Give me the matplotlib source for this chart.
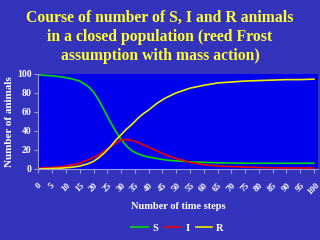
import matplotlib
matplotlib.use("Agg")
import matplotlib.pyplot as plt

t = [0, 5, 8, 12, 15, 18, 20, 22, 24, 26, 28, 30, 32, 34, 36, 38, 40, 43, 46,
     50, 55, 60, 65, 70, 75, 80, 85, 90, 95, 100]
s = [99, 98, 97, 95, 92.5, 87, 81, 72, 61, 50, 40, 31, 24, 19, 16, 14, 12.5, 11, 9.5,
     8.5, 7.5, 7, 6.5, 6.3, 6, 6, 6, 6, 6, 6]
i = [1, 1.5, 2.2, 4, 6, 9.5, 12, 15, 19, 23, 27, 30.5, 31, 30, 28, 25.5, 23, 19, 15,
     11, 7, 4.5, 3, 2.5, 2, 1.5, 1.2, 1, 1, 1]
r = [0, 0.5, 0.8, 1.8, 3, 5.5, 8, 12, 17, 23, 30, 36, 42, 47, 53, 58, 62, 69, 74.5,
     80, 85, 88, 90.5, 91.5, 92.5, 93, 93.5, 94, 94, 94.5]
xticks = list(range(0, 101, 5))
yticks = [0, 20, 40, 60, 80, 100]

bg = "#3333bb"
serif = "Liberation Serif"

fig = plt.figure(figsize=(3.2, 2.4), dpi=100, facecolor=bg)
ax = fig.add_axes([0.12, 0.296, 0.874, 0.396])
ax.set_facecolor("#0000ee")

ax.plot(t, s, color="#00dd00", lw=1.2, label="S")
ax.plot(t, i, color="#ee0000", lw=1.2, label="I")
ax.plot(t, r, color="#eeee00", lw=1.2, label="R")

ax.set_xlim(0, 101.5)
ax.set_ylim(0, 100)
ax.set_xticks(xticks)
ax.set_yticks(yticks)
ax.set_xticklabels([str(v) for v in xticks], rotation=45, ha="center", va="top",
                   fontsize=6.5, fontweight="bold", family=serif, color="white")
ax.set_yticklabels([str(v) for v in yticks], fontsize=7, fontweight="bold",
                   family=serif, color="white")
ax.tick_params(axis="x", colors="#9999dd", length=3, pad=6)
ax.tick_params(axis="y", colors="#9999dd", length=3, pad=2)
for lab in ax.get_xticklabels() + ax.get_yticklabels():
    lab.set_color("white")
for side in ["top", "right"]:
    ax.spines[side].set_visible(False)
for side in ["left", "bottom"]:
    ax.spines[side].set_color("#9999dd")

ax.set_ylabel("Number of animals", fontsize=8, fontweight="bold", family=serif,
              color="white", labelpad=2)
ax.set_xlabel("Number of time steps", fontsize=7.5, fontweight="bold", family=serif,
              color="white", labelpad=4)

fig.text(0.5, 0.96, "Course of number of S, I and R animals\nin a closed population (reed Frost\nassumption with mass action)",
         ha="center", va="top", fontsize=11.3, fontweight="bold", family=serif,
         color="#ffff33", linespacing=1.28)

leg = fig.legend(loc="center", bbox_to_anchor=(0.555, 0.05), ncol=3, frameon=False,
                 handlelength=1.6, columnspacing=0.6, handletextpad=0.4,
                 prop={"family": serif, "weight": "bold", "size": 7.5})
for txt in leg.get_texts():
    txt.set_color("white")

fig.savefig("out.png", dpi=100, facecolor=bg)
